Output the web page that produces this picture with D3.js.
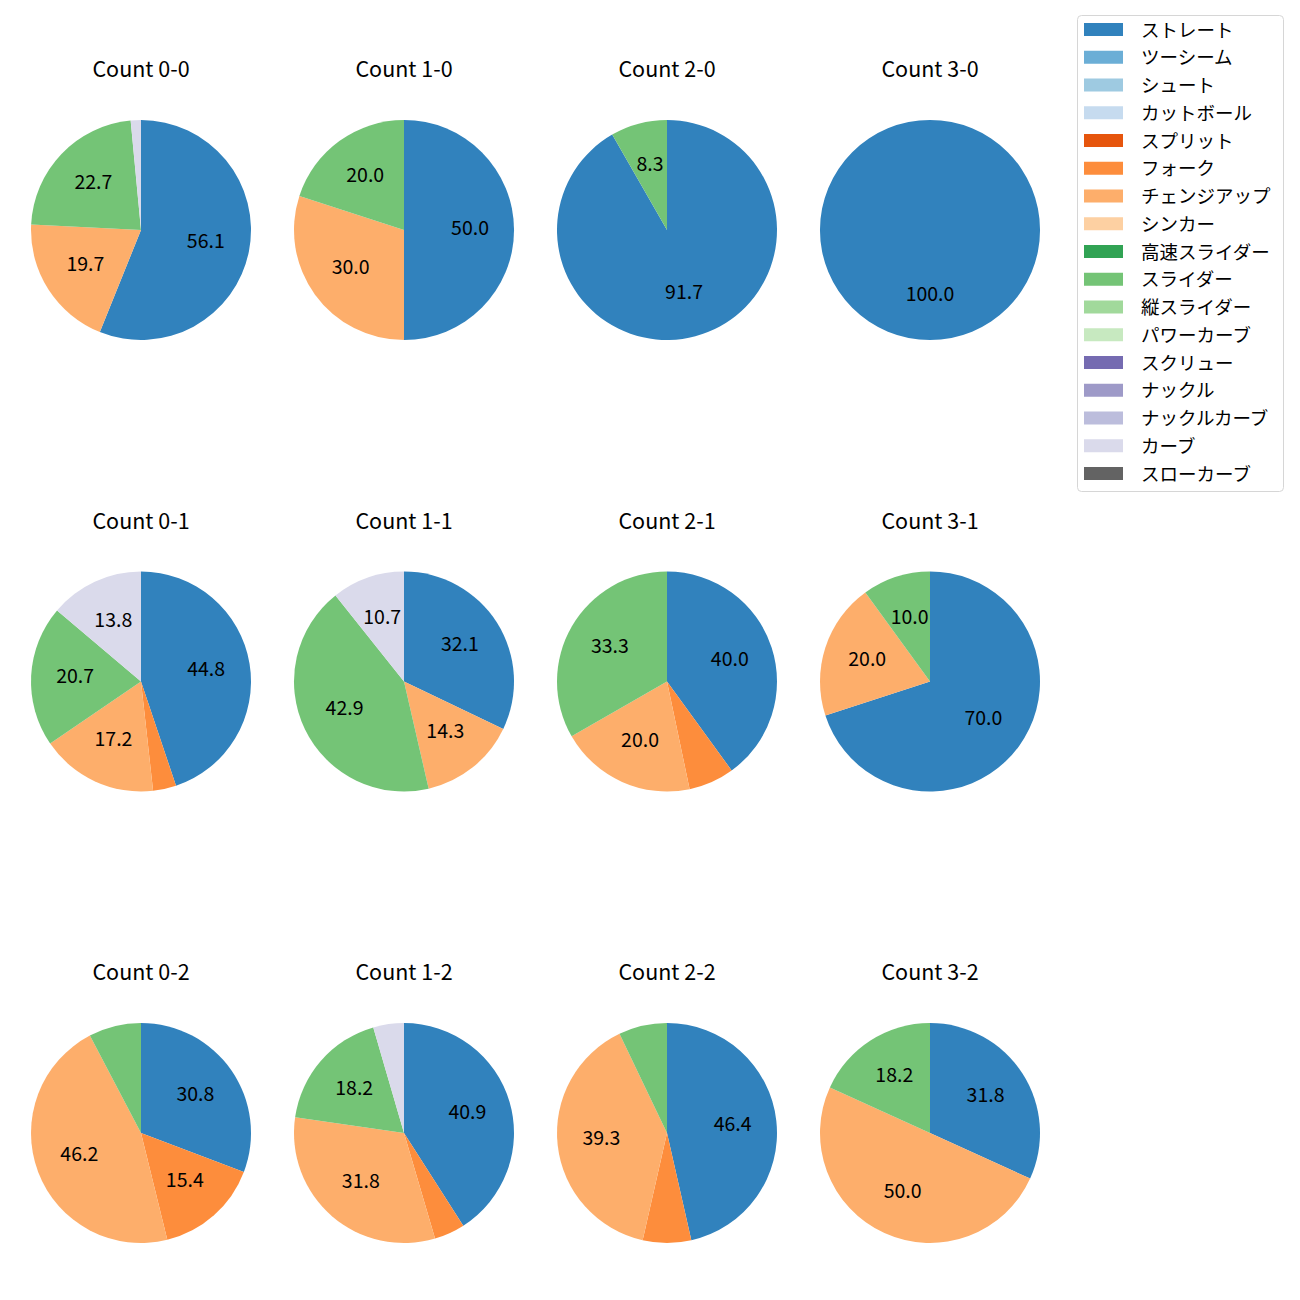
<!DOCTYPE html>
<html>
<head>
<meta charset="utf-8">
<script src="https://cdn.jsdelivr.net/npm/d3@7"></script>
<style>
  html, body { margin: 0; padding: 0; background: #fff; }
  svg text { font-family: "Noto Sans CJK JP", "Noto Sans", sans-serif; }
</style>
</head>
<body>
<svg id="chart" width="1300" height="1300"></svg>
<script>
// Legend entries (pitch types) and colours
const pitchTypes = ["ストレート","ツーシーム","シュート","カットボール","スプリット","フォーク","チェンジアップ","シンカー","高速スライダー","スライダー","縦スライダー","パワーカーブ","スクリュー","ナックル","ナックルカーブ","カーブ","スローカーブ"];
const pitchColors = ["#3182bd","#6baed6","#9ecae1","#c6dbef","#e6550d","#fd8d3c","#fdae6b","#fdd0a2","#31a354","#74c476","#a1d99b","#c7e9c0","#756bb1","#9e9ac8","#bcbddc","#dadaeb","#636363"];

// Pitch types present in the pies (in drawing order)
const seriesTypes = ["ストレート","フォーク","チェンジアップ","スライダー","カーブ"];

// Counts (ball-strike) in grid order
const countLabels = ["0-0","1-0","2-0","3-0","0-1","1-1","2-1","3-1","0-2","1-2","2-2","3-2"];

// Percentages per count, aligned with seriesTypes
const count00 = [56.1, 0.0, 19.7, 22.7, 1.5];
const count10 = [50.0, 0.0, 30.0, 20.0, 0.0];
const count20 = [91.7, 0.0, 0.0, 8.3, 0.0];
const count30 = [100.0, 0.0, 0.0, 0.0, 0.0];
const count01 = [44.8, 3.4, 17.2, 20.7, 13.8];
const count11 = [32.1, 0.0, 14.3, 42.9, 10.7];
const count21 = [40.0, 6.7, 20.0, 33.3, 0.0];
const count31 = [70.0, 0.0, 20.0, 10.0, 0.0];
const count02 = [30.8, 15.4, 46.2, 7.7, 0.0];
const count12 = [40.9, 4.5, 31.8, 18.2, 4.5];
const count22 = [46.4, 7.1, 39.3, 7.1, 0.0];
const count32 = [31.8, 0.0, 50.0, 18.2, 0.0];
const countValues = [count00,count10,count20,count30,count01,count11,count21,count31,count02,count12,count22,count32];

const labelThreshold = 8;

const svg = d3.select("#chart");
const color = d3.scaleOrdinal().domain(pitchTypes).range(pitchColors);

const colX = d3.scalePoint().domain([0,1,2,3]).range([141, 930]);
const rowY = d3.scalePoint().domain([0,1,2]).range([230, 1133]);
const radius = 110;

const pie = d3.pie().sort(null).value(d => d.value);
const arc = d3.arc().innerRadius(0).outerRadius(radius);
const labelArc = d3.arc().innerRadius(radius * 0.6).outerRadius(radius * 0.6);

countLabels.forEach((lab, i) => {
  const col = i % 4, row = Math.floor(i / 4);
  const cx = colX(col), cy = rowY(row);
  const data = seriesTypes.map((t, j) => ({type: t, value: countValues[i][j]}));
  const g = svg.append("g").attr("transform", `translate(${cx},${cy})`);
  const arcs = pie(data).filter(d => d.data.value > 0);
  g.selectAll("path").data(arcs).join("path")
    .attr("d", arc)
    .attr("fill", d => color(d.data.type));
  g.selectAll("text.pct").data(arcs.filter(d => d.data.value >= labelThreshold)).join("text")
    .attr("class", "pct")
    .attr("transform", d => { const c = labelArc.centroid(d); return `translate(${c[0]},${c[1] - 3.5})`; })
    .attr("text-anchor", "middle")
    .attr("dominant-baseline", "central")
    .attr("font-size", 19.5)
    .attr("fill", "#000")
    .text(d => d.data.value.toFixed(1));
  svg.append("text")
    .attr("x", cx).attr("y", cy - 162.5)
    .attr("text-anchor", "middle")
    .attr("dominant-baseline", "central")
    .attr("font-size", 21.5)
    .attr("fill", "#000")
    .text("Count " + lab);
});

// Legend
const lg = svg.append("g");
const lgX = 1077, lgY = 15, lgW = 206, lgH = 476;
lg.append("rect").attr("x", lgX + 0.5).attr("y", lgY + 0.5).attr("width", lgW).attr("height", lgH)
  .attr("rx", 4).attr("fill", "#fff").attr("stroke", "#d6d6d6").attr("stroke-width", 1);
const rowStep = 27.75;
pitchTypes.forEach((t, k) => {
  const y = 29.5 + k * rowStep;
  lg.append("rect").attr("x", 1084).attr("y", y - 6.5).attr("width", 39).attr("height", 13).attr("fill", color(t));
  lg.append("text").attr("x", 1141).attr("y", y - 1).attr("dominant-baseline", "central")
    .attr("font-size", 18.5).attr("fill", "#000").text(t);
});
</script>
</body>
</html>
